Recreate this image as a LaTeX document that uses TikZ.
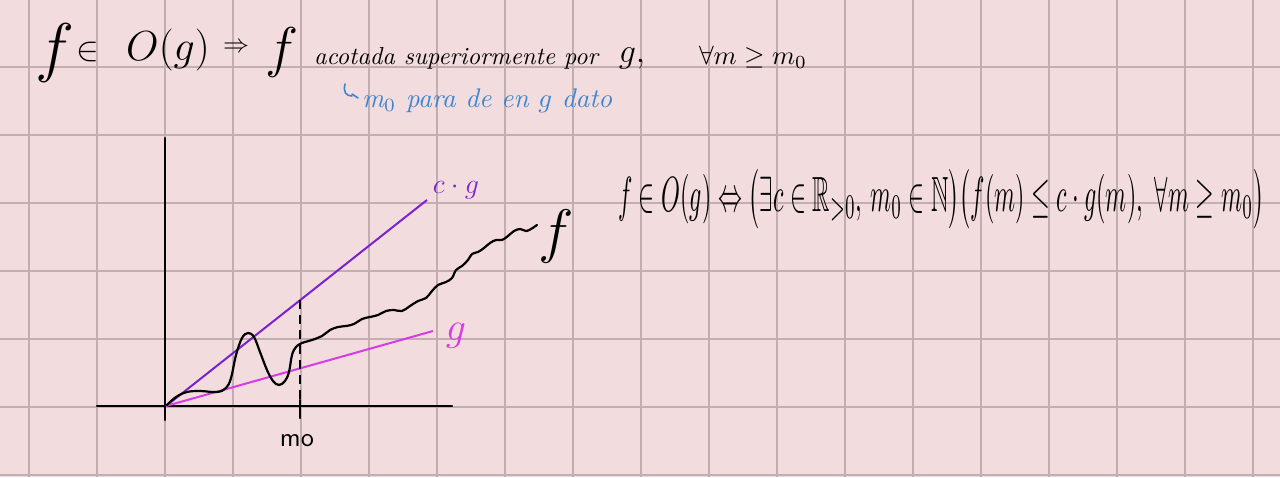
\RequirePackage{fix-cm}
\documentclass[tikz,border=0pt]{standalone}
\usepackage{amssymb}
\usepackage{graphicx}
\definecolor{paper}{HTML}{F3DCDD}
\definecolor{gridc}{HTML}{C2ADB0}
\definecolor{cgcol}{HTML}{7A22CF}
\definecolor{gcol}{HTML}{D63BE6}
\definecolor{bluenote}{HTML}{3A86D0}
\tikzset{
  ink/.style={black, line width=2.2pt, line cap=round, line join=round},
  txt/.style={inner sep=0pt, outer sep=0pt, text=black},
}
\begin{document}
\begin{tikzpicture}[x=1pt,y=-1pt]
\useasboundingbox (0,0) rectangle (1280,477);
\fill[paper] (0,0) rectangle (1280,477);
% grid
\foreach \k in {0,...,18} {\draw[gridc, line width=1.5pt] ({29+68*\k},0) -- ({29+68*\k},477);}
\foreach \k in {1,...,7} {\draw[gridc, line width=1.5pt] (0,{-1+68*\k}) -- (1280,{-1+68*\k});}

% top line
\node[txt] (f1) at (55,53) {\fontsize{66}{66}\selectfont $f$};
\node[txt] (in1) at (88,52) {\fontsize{34}{34}\selectfont $\in$};
\node[txt] (Og) at (168,50) {\fontsize{42}{42}\selectfont $O(g)$};
\node[txt] (imp) at (236,48) {\fontsize{26}{26}\selectfont $\Rightarrow$};
\node[txt] (f2) at (282,52) {\fontsize{56}{56}\selectfont $f$};
\node[txt, anchor=west] (acot) at (314,58) {\resizebox{284pt}{!}{\itshape acotada superiormente por}};
\node[txt] (g1) at (632,58) {\fontsize{34}{34}\selectfont $g,$};
\node[txt, anchor=west] (forall1) at (699,57) {\resizebox{108pt}{!}{$\forall m \geq m_0$}};

% blue note
\draw[bluenote, line width=1.6pt, line cap=round] (345,84) .. controls (343,92) and (346,96) .. (352,96);
\draw[bluenote, line width=1.6pt, line cap=round] (352,94) -- (358,98);
\node[txt, anchor=west, text=bluenote] (note) at (362,101) {\resizebox{250pt}{!}{\itshape m$_0$ para de en $g$ dato}};

% right formula
\node[txt, anchor=west] (defn) at (618,199) {\resizebox{646pt}{42pt}{$f\in O(g) \Leftrightarrow \big(\exists c \in \mathbb{R}_{>0},\, m_0\in\mathbb{N}\big)\big(f(m) \leq c\cdot g(m),\ \forall m \geq m_0\big)$}};

% axes
\coordinate (O) at (166,406);
\draw[ink] (165,138) -- (165,420);
\draw[ink] (97,406) -- (452,406);
% lines
\coordinate (cgend) at (427,200);
\coordinate (gend) at (433,331);
\draw[cgcol, line width=2pt] (O) -- (cgend);
\draw[gcol, line width=2pt] (O) -- (gend);
\node[txt, text=cgcol] (cglab) at (456,190) {\fontsize{28}{28}\selectfont $c\cdot g$};
\node[txt, text=gcol] (glab) at (456,336) {\fontsize{40}{40}\selectfont $g$};
% m0
\coordinate (m0top) at (300,300);
\coordinate (m0ax) at (300,406);
\draw[black, line width=2.2pt, dash pattern=on 9pt off 6pt] (m0top) -- (m0ax);
\draw[ink] (300,400) -- (300,418);
\node[txt] (m0lab) at (297,441) {\resizebox{34pt}{!}{\sffamily mo}};
% f curve
\draw[ink] plot[smooth, tension=0.6] coordinates {
(167,405) (176,397) (187,392) (200,391) (217,392) (226,388) (231,378) (236,355) (242,338) (248,333) (254,337) (260,352) (267,370) (273,381) (279,385) (285,381) (289,372) (292,355) (296,347) (302,343)
(312,340) (322,336) (330,330) (338,327) (346,326) (354,324) (362,319) (370,317) (378,315) (386,311) (394,310) (402,311) (410,306) (418,301) (426,298) (432,291) (438,285) (446,282) (452,278) (456,270) (462,266) (468,260) (472,254) (478,252) (484,248) (490,243) (496,240) (502,240) (508,236) (514,231) (520,229) (526,231) (531,229) (537,225)};
\node[txt] (flab) at (556,236) {\fontsize{60}{60}\selectfont $f$};
\end{tikzpicture}
\end{document}
